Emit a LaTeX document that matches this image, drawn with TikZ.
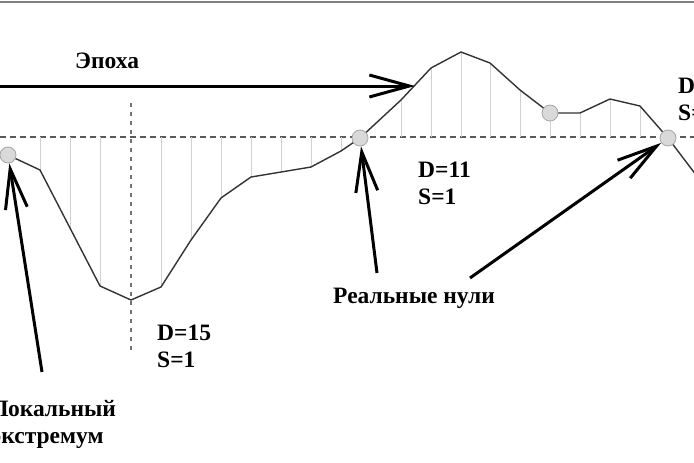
\documentclass[tikz,border=0pt]{standalone}
\usepackage{fontspec}
\setmainfont{Liberation Serif}
\usetikzlibrary{arrows.meta}

\begin{document}
\begin{tikzpicture}[
      x=1pt, y=-1pt,
      every node/.style = {inner sep=0pt, align=left, font=\bfseries\fontsize{23.5}{27}\selectfont},
      extremum/.style   = {circle, draw=black!35, fill=black!15, line width=0.8pt, minimum size=16pt},
      pointer/.style    = {draw, line width=3pt, -{Straight Barb[length=40pt, width=22pt]}},
      zeroline/.style   = {draw=black!65, line width=1.2pt, dash pattern=on 6pt off 4pt},
      axisline/.style   = {draw=black!55, line width=1.2pt, dash pattern=on 4pt off 5pt},
      stem/.style       = {draw=black!18, line width=1pt},
      signal/.style     = {draw=black!80, line width=1.4pt, line join=round}
    ]
    \path[use as bounding box] (0,0) rectangle (694,463);
    \clip (0,0) rectangle (694,463);

    % frame and axes
    \draw[black!50, line width=2pt] (0,2) -- (694,2);
    \path[zeroline] (0,137) -- (694,137);
    \path[axisline] (131,103) -- (131,352);

    % sample stems
    \path[stem] (40,170) -- (40,137)   (70,228) -- (70,137)   (100,286) -- (100,137)
                (161,287) -- (161,137) (191,240) -- (191,137) (221,198) -- (221,137)
                (251,177) -- (251,137) (281,172) -- (281,137) (311,167) -- (311,137)
                (341,151) -- (341,137) (401,100) -- (401,137) (431,68) -- (431,137)
                (461,52) -- (461,137)  (490,63) -- (490,137)  (520,90) -- (520,137)
                (550,113) -- (550,137) (580,113) -- (580,137) (610,99) -- (610,137)
                (640,106) -- (640,137);

    % signal
    \path[signal] (8,155) -- (40,170) -- (70,228) -- (100,286) -- (131,300) -- (161,287)
                  -- (191,240) -- (221,198) -- (251,177) -- (281,172) -- (311,167)
                  -- (341,151) -- (360,138) -- (401,100) -- (431,68) -- (461,52)
                  -- (490,63) -- (520,90) -- (550,113) -- (580,113) -- (610,99)
                  -- (640,106) -- (668,138) -- (712,196);

    \node (localext) [extremum] at (8,155)   {};
    \node (zeroa)    [extremum] at (360,138) {};
    \node (midext)   [extremum] at (550,113) {};
    \node (zerob)    [extremum] at (668,138) {};

    \coordinate (epochstart) at (-4,86);
    \coordinate (epochend)   at (415,86);
    \coordinate (localtail)  at (42,372);
    \coordinate (zeroatail)  at (377,273);
    \coordinate (zerobtail)  at (470,278);

    \node (epoch)    [anchor=north west] at (75,53)   {Эпоха};
    \node (dleft)    [anchor=north west] at (157,325) {D=15\\S=1};
    \node (dmid)     [anchor=north west] at (418,162) {D=11\\S=1};
    \node (dright)   [anchor=north west] at (678,78)  {D\\S=};
    \node (zeros)    [anchor=north west] at (333,288) {Реальные нули};
    \node (extlabel) [anchor=north west] at (-9,400)  {Локальный\\экстремум};

    \draw[pointer] (epochstart) to (epochend);
    \draw[pointer] (localtail)  to (localext);
    \draw[pointer] (zeroatail)  to (zeroa);
    \draw[pointer] (zerobtail)  to (zerob);

  \end{tikzpicture}
\end{document}
